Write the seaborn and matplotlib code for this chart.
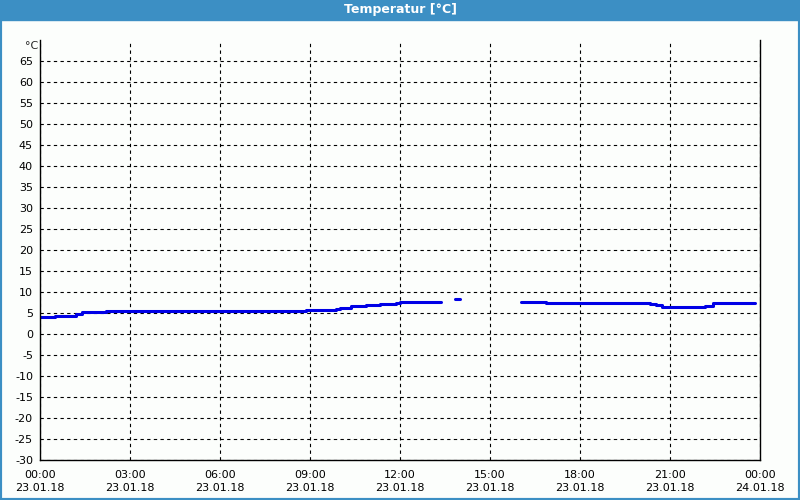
import matplotlib
matplotlib.use("Agg")
import matplotlib.pyplot as plt
import seaborn as sns
import pandas as pd
import numpy as np
from matplotlib.patches import Rectangle

# hours since 23.01.18 00:00, NaN breaks the line
hours = [0.0, 0.5, 1.2, 1.4, 2.2, 8.87, 9.8, 9.85, 10.0, 10.35, 10.57, 10.87, 11.33, 11.87,
         12.0, 13.37, 13.4, 13.83, 14.0, 14.05, 16.03, 16.87, 20.0, 20.33, 20.53, 20.73,
         21.67, 22.17, 22.43, 23.33, 23.83]
temps = [4.1, 4.4, 4.7, 5.2, 5.5, 5.8, 5.8, 6.0, 6.3, 6.6, 6.7, 7.0, 7.2, 7.4,
         7.6, 7.6, np.nan, 8.4, 8.4, np.nan, 7.6, 7.4, 7.4, 7.1, 6.9, 6.5,
         6.5, 6.7, 7.5, 7.3, 7.3]
x_ticks = [0, 3, 6, 9, 12, 15, 18, 21, 24]
x_labels = ["00:00\n23.01.18", "03:00\n23.01.18", "06:00\n23.01.18", "09:00\n23.01.18",
            "12:00\n23.01.18", "15:00\n23.01.18", "18:00\n23.01.18", "21:00\n23.01.18",
            "00:00\n24.01.18"]
y_ticks = list(range(-30, 70, 5))

df = pd.DataFrame({"h": hours, "t": temps})
df["seg"] = df["t"].isna().cumsum()
df = df.dropna()

sns.set_style("white")
plt.rcParams['font.family'] = ['DejaVu Sans']

fig = plt.figure(figsize=(8, 5), dpi=100, facecolor="#fcfefc")
ax = fig.add_axes([0.05, 0.08, 0.90, 0.84])
ax.set_facecolor("#fcfefc")

sns.lineplot(data=df, x="h", y="t", units="seg", estimator=None, color="#0000e6",
             linewidth=2.2, drawstyle="steps-post", ax=ax)

ax.set_xlim(0, 24)
ax.set_ylim(-30, 70)
ax.set_xticks(x_ticks)
ax.set_xticklabels(x_labels, fontsize=8, linespacing=1.35)
ax.set_xticks(range(0, 25), minor=True)
ax.set_yticks(y_ticks)
ax.set_yticklabels([str(v) for v in y_ticks], fontsize=8)
ax.tick_params(axis="x", which="both", direction="out", length=4, width=0.8, colors="black", pad=3)
ax.tick_params(axis="y", direction="out", length=3, width=0.8, colors="black", pad=2)
ax.set_xlabel("")
ax.set_ylabel("")
ax.grid(True, which="major", color="black", linestyle=(0, (3, 3)), linewidth=0.8)

for s in ["left", "bottom", "right"]:
    ax.spines[s].set_visible(True)
    ax.spines[s].set_color("black")
    ax.spines[s].set_linewidth(1)
ax.spines["top"].set_visible(False)

ax.text(-0.003, 0.985, "°C", transform=ax.transAxes, ha="right", va="center", fontsize=8)

# window frame and title bar
blue = "#3c8fc4"
fig.patches.append(Rectangle((0, 0.96), 1, 0.04, transform=fig.transFigure, color=blue, zorder=0))
fig.patches.append(Rectangle((0, 0), 1, 1, transform=fig.transFigure, fill=False,
                             edgecolor=blue, linewidth=3, zorder=0))
fig.text(0.5, 0.98, "Temperatur [°C]", ha="center", va="center", color="white",
         fontsize=9, fontweight="bold")

fig.savefig("out.png", dpi=100, facecolor=fig.get_facecolor())
